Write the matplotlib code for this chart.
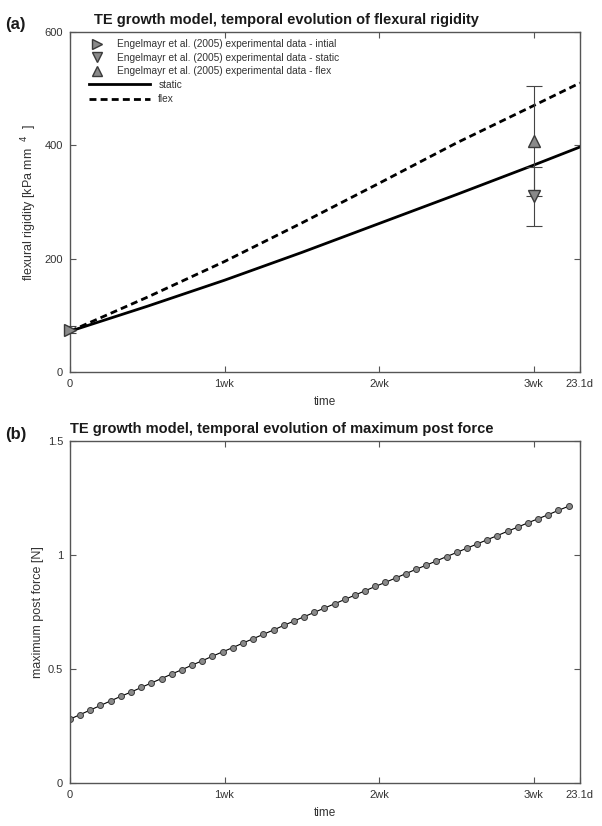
import matplotlib
matplotlib.use('Agg')
import matplotlib.pyplot as plt
from matplotlib.lines import Line2D

plt.rcParams['font.family'] = ['Liberation Sans', 'DejaVu Sans']

# panel (a): flexural rigidity [kPa mm^4] vs time [days]
model_days = [0, 3.5, 7, 10.5, 14, 17.5, 21, 23.1]
static_rig = [72, 116, 162, 211, 262, 313, 365, 397]
flex_rig = [72, 132, 195, 263, 333, 404, 470, 510]

init_day, init_val, init_err = 0, 75, 7
exp_day = 21
static_val, static_err = 310, 52
flex_val, flex_err = 408, 97

# panel (b): maximum post force [N]
force_days = [0.00, 0.46, 0.92, 1.38, 1.84, 2.30, 2.77, 3.23, 3.69, 4.15,
              4.61, 5.07, 5.53, 5.99, 6.45, 6.91, 7.38, 7.84, 8.30, 8.76,
              9.22, 9.68, 10.14, 10.60, 11.06, 11.52, 11.99, 12.45, 12.91, 13.37,
              13.83, 14.29, 14.75, 15.21, 15.67, 16.13, 16.60, 17.06, 17.52, 17.98,
              18.44, 18.90, 19.36, 19.82, 20.28, 20.74, 21.21, 21.67, 22.13, 22.59]
force_vals = [0.280, 0.300, 0.320, 0.340, 0.360, 0.380, 0.399, 0.419, 0.439, 0.458,
              0.478, 0.497, 0.517, 0.536, 0.556, 0.575, 0.594, 0.614, 0.633, 0.652,
              0.671, 0.691, 0.710, 0.729, 0.748, 0.767, 0.786, 0.805, 0.824, 0.843,
              0.862, 0.880, 0.899, 0.918, 0.937, 0.955, 0.974, 0.993, 1.011, 1.030,
              1.048, 1.067, 1.085, 1.104, 1.122, 1.141, 1.159, 1.177, 1.196, 1.214]

xticks = [0, 7, 14, 21, 23.1]
xticklabels = ['0', '1wk', '2wk', '3wk', '23.1d']

grey = '#8a8a8a'
edge = '#3a3a3a'
txt = '#333333'

fig = plt.figure(figsize=(6.02, 8.26), dpi=100)
ax1 = fig.add_axes([0.1163, 0.5496, 0.847, 0.4117])
ax2 = fig.add_axes([0.1163, 0.0521, 0.847, 0.4140])


def style(ax):
    ax.set_xlim(0, 23.1)
    ax.set_xticks(xticks)
    ax.set_xticklabels(xticklabels)
    ax.tick_params(direction='in', top=True, right=True, length=4, width=0.8,
                   colors='#555555', labelcolor=txt, labelsize=8, pad=5)
    for s in ax.spines.values():
        s.set_color('#555555')
        s.set_linewidth(1.0)
    ax.set_xlabel('time', fontsize=8.5, color=txt, labelpad=5)


# ---- (a)
ax1.plot(model_days, static_rig, color='black', lw=2.0)
ax1.plot(model_days, flex_rig, color='black', lw=2.0, ls=(0, (2.5, 1.5)))
ax1.errorbar([exp_day], [flex_val], yerr=[flex_err], fmt='^', ms=8, mfc=grey, mec=edge,
             ecolor='#444444', elinewidth=0.8, capsize=6, capthick=0.8, zorder=4)
ax1.errorbar([exp_day], [static_val], yerr=[static_err], fmt='v', ms=8, mfc=grey, mec=edge,
             ecolor='#444444', elinewidth=0.8, capsize=6, capthick=0.8, zorder=4)
ax1.errorbar([init_day], [init_val], yerr=[init_err], fmt='>', ms=8, mfc=grey, mec=edge,
             ecolor='#444444', elinewidth=0.8, capsize=4, capthick=0.8, zorder=5, clip_on=False)
ax1.set_ylim(0, 600)
ax1.set_yticks([0, 200, 400, 600])
style(ax1)
ax1.set_ylabel('flexural rigidity [kPa mm  $^{4}$  ]', fontsize=9, color=txt, labelpad=4)
ax1.set_title('TE growth model, temporal evolution of flexural rigidity',
              fontsize=10.5, fontweight='bold', color='#1a1a1a', pad=6, x=0.425)

mk = [Line2D([], [], ls='none', marker=m, ms=7, mfc=grey, mec=edge) for m in ('>', 'v', '^')]
leg1 = ax1.legend(mk, ['Engelmayr et al. (2005) experimental data - intial',
                       'Engelmayr et al. (2005) experimental data - static',
                       'Engelmayr et al. (2005) experimental data - flex'],
                  loc='upper left', bbox_to_anchor=(0.02, 1.006), frameon=False,
                  fontsize=7.3, handlelength=1.5, handletextpad=1.2, labelspacing=0.35,
                  labelcolor=txt)
ax1.add_artist(leg1)
ln = [Line2D([], [], color='black', lw=2.0),
      Line2D([], [], color='black', lw=2.0, ls=(0, (2.5, 1.5)))]
ax1.legend(ln, ['static', 'flex'], loc='upper left', bbox_to_anchor=(0.02, 0.886),
           frameon=False, fontsize=7.3, handlelength=6.0, handletextpad=0.8,
           labelspacing=0.45, labelcolor=txt)

# ---- (b)
ax2.plot(force_days, force_vals, color='black', lw=0.8, marker='o', ms=4.3,
         mfc=grey, mec=edge, mew=0.7)
ax2.set_ylim(0, 1.5)
ax2.set_yticks([0, 0.5, 1, 1.5])
ax2.set_yticklabels(['0', '0.5', '1', '1.5'])
style(ax2)
ax2.set_ylabel('maximum post force [N]', fontsize=9, color=txt, labelpad=3)
ax2.set_title('TE growth model, temporal evolution of maximum post force',
              fontsize=10.5, fontweight='bold', color='#1a1a1a', pad=6, x=0.416)

fig.text(0.008, 0.965, '(a)', fontsize=12, fontweight='bold', color='#1a1a1a')
fig.text(0.008, 0.468, '(b)', fontsize=12, fontweight='bold', color='#1a1a1a')

fig.savefig('out.png', dpi=100)
